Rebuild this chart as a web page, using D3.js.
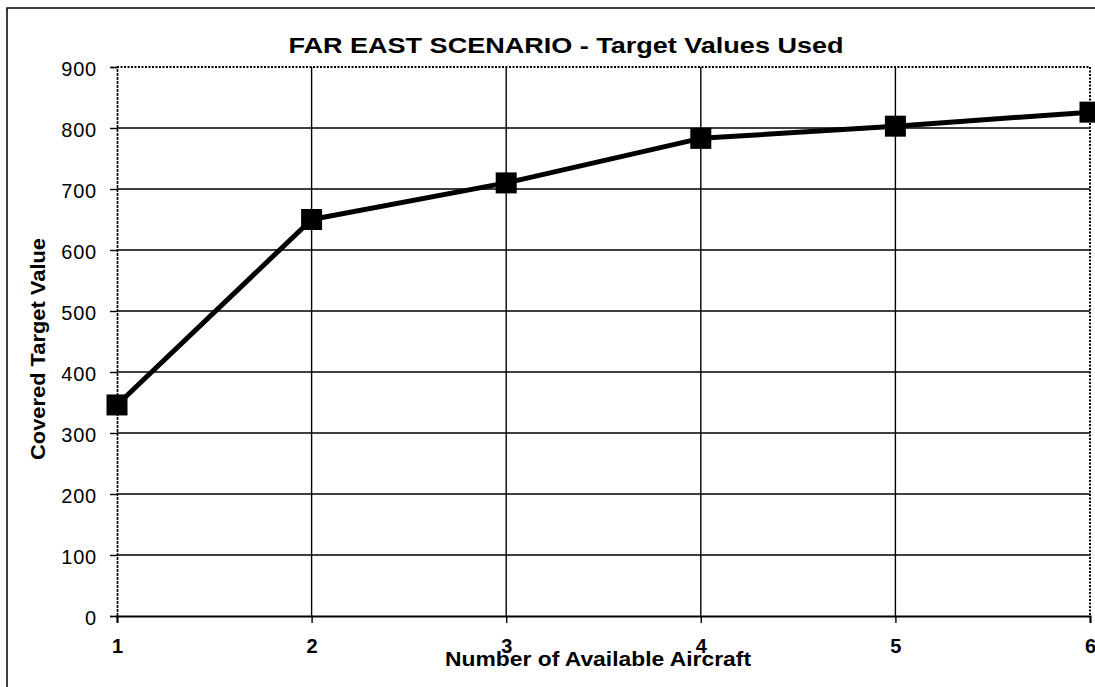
<!DOCTYPE html>
<html><head><meta charset="utf-8">
<script src="https://cdn.jsdelivr.net/npm/d3@7"></script>
<style>body{margin:0;background:#fff}svg{display:block}text{font-family:"Liberation Sans",Arial,sans-serif;fill:#000}</style>
</head><body><div id="chart"></div>
<script>
const aircraft = [1, 2, 3, 4, 5, 6];
const coveredValue = [346, 650, 710, 783, 803, 826];
const yTicks = [0, 100, 200, 300, 400, 500, 600, 700, 800, 900];
const title = "FAR EAST SCENARIO - Target Values Used";
const xTitle = "Number of Available Aircraft";
const yTitle = "Covered Target Value";

const W = 1095, H = 687;
const m = {left:117, right:1090, top:67, bottom:616};
const svg = d3.select("#chart").append("svg").attr("width", W).attr("height", H);

// outer frame
svg.append("path").attr("d", `M7,${H+5} L7,8 L${W+5},8`).attr("fill","none").attr("stroke","#000").attr("stroke-width",1.5);

const x = d3.scaleLinear().domain([1,6]).range([m.left, m.right]);
const y = d3.scaleLinear().domain([0,900]).range([m.bottom, m.top]);

// horizontal gridlines
svg.append("g").selectAll("line").data(yTicks.filter(v => v > 0 && v < 900)).join("line")
  .attr("x1", m.left).attr("x2", m.right).attr("y1", d => y(d)).attr("y2", d => y(d))
  .attr("stroke","#000").attr("stroke-width",1.4);
// vertical gridlines
svg.append("g").selectAll("line").data(aircraft.filter(v => v > 1 && v < 6)).join("line")
  .attr("x1", d => x(d)).attr("x2", d => x(d)).attr("y1", m.top).attr("y2", m.bottom)
  .attr("stroke","#000").attr("stroke-width",1.4);
// dotted top & right border
svg.append("path").attr("d", `M${m.left},${m.top} L${m.right},${m.top} L${m.right},${m.bottom}`)
  .attr("fill","none").attr("stroke","#000").attr("stroke-width",2).attr("stroke-dasharray","2,1.5");

// y axis
const yAxis = svg.append("g").attr("transform", `translate(${m.left},0)`)
  .call(d3.axisLeft(y).tickValues(yTicks).tickSize(7).tickPadding(13));
yAxis.attr("font-size", null).attr("font-family", null);
yAxis.select(".domain").attr("stroke-width",1.6).attr("stroke-dasharray","3,1");
yAxis.selectAll(".tick line").attr("stroke-width",1.4);
yAxis.selectAll("text").style("font-size","20px").style("letter-spacing","0.8px").attr("dy","0.4em");

// x axis
const xAxis = svg.append("g").attr("transform", `translate(0,${m.bottom})`)
  .call(d3.axisBottom(x).tickValues(aircraft).tickFormat(d3.format("d")).tickSize(7).tickPadding(16));
xAxis.attr("font-size", null).attr("font-family", null);
xAxis.select(".domain").attr("stroke-width",2);
xAxis.selectAll(".tick line").attr("stroke-width",1.4);
xAxis.selectAll("text").style("font-size","20px").style("font-weight","bold");

// line
svg.append("path").datum(aircraft.map((a,i)=>[a, coveredValue[i]]))
  .attr("d", d3.line().x(d=>x(d[0])).y(d=>y(d[1])))
  .attr("fill","none").attr("stroke","#000").attr("stroke-width",5).attr("stroke-linejoin","round");
// markers
svg.append("g").selectAll("rect").data(aircraft.map((a,i)=>[a, coveredValue[i]])).join("rect")
  .attr("x", d => x(d[0]) - 10.5).attr("y", d => y(d[1]) - 10.5).attr("width",21).attr("height",21).attr("fill","#000");

// titles
svg.append("text").attr("x", 566).attr("y", 53).attr("text-anchor","middle")
  .style("font-size","22px").style("font-weight","bold").attr("textLength",555).attr("lengthAdjust","spacingAndGlyphs").text(title);
svg.append("text").attr("x", 598).attr("y", 666).attr("text-anchor","middle")
  .style("font-size","20px").style("font-weight","bold").attr("textLength",306).attr("lengthAdjust","spacingAndGlyphs").text(xTitle);
svg.append("text").attr("transform","translate(45,349) rotate(-90)").attr("text-anchor","middle")
  .style("font-size","20px").style("font-weight","bold").attr("textLength",222).attr("lengthAdjust","spacingAndGlyphs").text(yTitle);
</script></body></html>
